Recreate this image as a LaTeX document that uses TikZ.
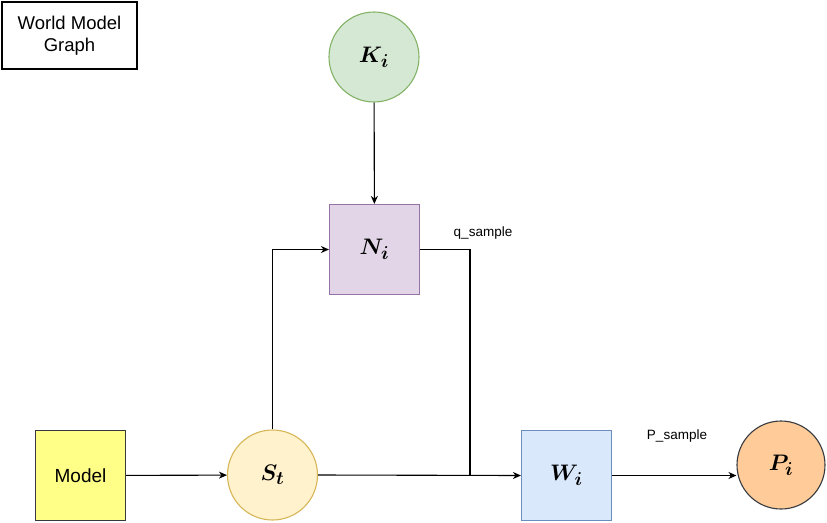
\documentclass[tikz,border=0pt]{standalone}
\usepackage{fontspec}
\setmainfont{Liberation Sans}
\usetikzlibrary{arrows.meta}
\definecolor{kfill}{HTML}{D5E8D4}\definecolor{kline}{HTML}{82B366}
\definecolor{nfill}{HTML}{E1D5E7}\definecolor{nline}{HTML}{9673A6}
\definecolor{mfill}{HTML}{FFFF88}\definecolor{mline}{HTML}{36393D}
\definecolor{sfill}{HTML}{FFF2CC}\definecolor{sline}{HTML}{D6B656}
\definecolor{wfill}{HTML}{DAE8FC}\definecolor{wline}{HTML}{6C8EBF}
\definecolor{pfill}{HTML}{FFCC99}
\newcommand\bigmath[1]{\scalebox{1.3}{\boldmath$#1$}}
\begin{document}
\begin{tikzpicture}[x=1pt,y=-1pt,line width=1.1pt,
    blk/.style={draw,minimum size=90pt,inner sep=0pt,font=\fontsize{19}{22}\selectfont},
    crc/.style={blk,circle},
    arr/.style={-{Stealth[length=8pt,width=7pt,inset=2.5pt]}},
    lbl/.style={font=\fontsize{13.5}{16}\selectfont}]
  \useasboundingbox (0,0) rectangle (827,522);
  \node[draw,minimum width=135pt,minimum height=67pt,align=center,
        font=\fontsize{18.5}{22}\selectfont](title) at (69.5,35.5){World Model\\Graph};
  % nodes
  \node[crc,fill=kfill,draw=kline](K) at (374,57){\bigmath{K_i}};
  \node[blk,fill=nfill,draw=nline](N) at (374.5,249.5){\bigmath{N_i}};
  \node[blk,fill=mfill,draw=mline](M) at (80.5,475.5){Model};
  \node[crc,fill=sfill,draw=sline](S) at (272.5,475){\bigmath{S_t}};
  \node[blk,fill=wfill,draw=wline](W) at (566.5,475.5){\bigmath{W_i}};
  \node[crc,fill=pfill,draw=mline,minimum size=88pt](P) at (781,465){\bigmath{P_i}};
  \coordinate(J) at (470,475);
  % edges
  \draw[arr](K)--(N);
  \draw[arr](M)--(S);
  \draw[arr](S.north)|-(N.west);
  \draw(N.east)-|(J);
  \draw[arr](S.east)--(W.west);
  \draw[arr](W.east)--(P.west|-W.east);
  \node[lbl](q) at (483,233){q\_sample};
  \node[lbl](ps) at (677,436){P\_sample};
\end{tikzpicture}
\end{document}
